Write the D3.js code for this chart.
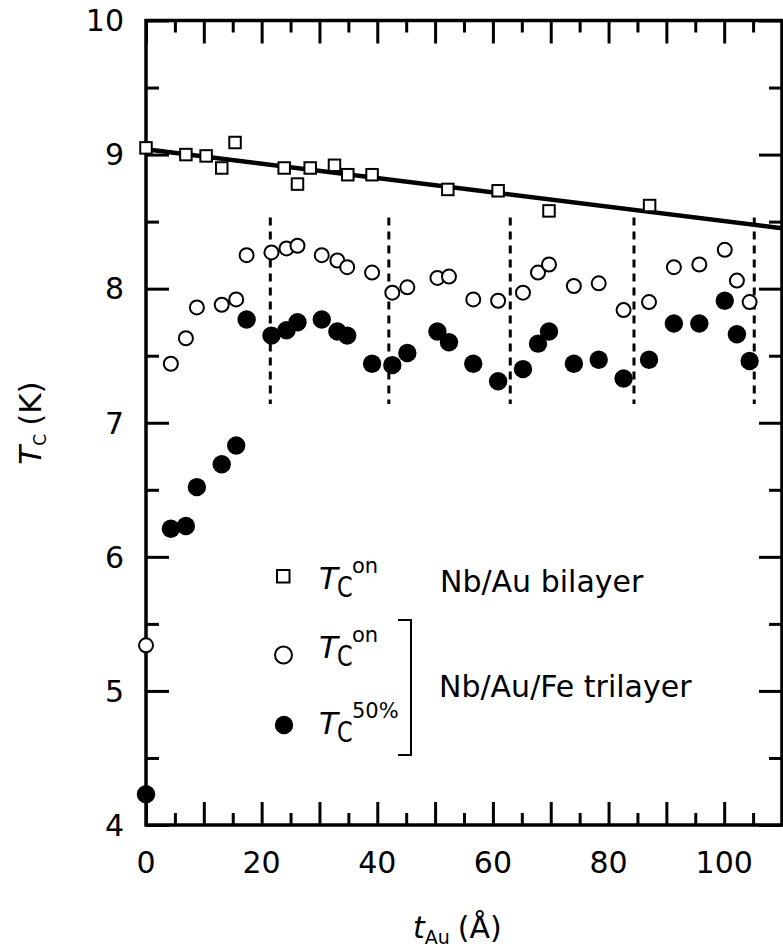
<!DOCTYPE html>
<html>
<head>
<meta charset="utf-8">
<script src="https://cdn.jsdelivr.net/npm/d3@7"></script>
<style>
  body { margin: 0; background: #fff; }
  svg { display: block; }
  text { font-family: 'DejaVu Sans', Verdana, sans-serif; fill: #000; }
</style>
</head>
<body>
<div id="chart"></div>
<script>
// Nb/Au bilayer, T_c onset
const biT = [0, 6.9, 10.4, 13.1, 15.4, 23.9, 26.2, 28.4, 32.6, 34.9, 39.1, 52.2, 60.9, 69.7, 87.1];
const biTc = [9.05, 9.00, 8.99, 8.90, 9.09, 8.90, 8.78, 8.90, 8.92, 8.85, 8.85, 8.74, 8.73, 8.58, 8.62];

// linear fit through the bilayer points
const fitT = [0, 110];
const fitTc = [9.04, 8.45];

// Nb/Au/Fe trilayer
const triT = [0, 4.3, 6.9, 8.8, 13.1, 15.6, 17.4, 21.7, 24.3, 26.2, 30.4, 33.1, 34.8, 39.1, 42.6, 45.2,
  50.4, 52.4, 56.6, 60.9, 65.2, 67.8, 69.7, 74.0, 78.3, 82.6, 87.0, 91.3, 95.7, 100.1, 102.2, 104.4];
const triOn = [5.34, 7.44, 7.63, 7.86, 7.88, 7.92, 8.25, 8.27, 8.30, 8.32, 8.25, 8.21, 8.16, 8.12, 7.97, 8.01,
  8.08, 8.09, 7.92, 7.91, 7.97, 8.12, 8.18, 8.02, 8.04, 7.84, 7.90, 8.16, 8.18, 8.29, 8.06, 7.90];
const tri50 = [4.23, 6.21, 6.23, 6.52, 6.69, 6.83, 7.77, 7.65, 7.69, 7.75, 7.77, 7.68, 7.65, 7.44, 7.43, 7.52,
  7.68, 7.60, 7.44, 7.31, 7.40, 7.59, 7.68, 7.44, 7.47, 7.33, 7.47, 7.74, 7.74, 7.91, 7.66, 7.46];

// dashed period markers
const periodT = [21.5, 42.0, 63.0, 84.4, 105.2];
const periodRange = [7.14, 8.53];

const xTicksMajor = [0, 10, 20, 30, 40, 50, 60, 70, 80, 90, 100, 110];
const xTicksMinor = [5, 15, 25, 35, 45, 55, 65, 75, 85, 95, 105];
const xLabels = [0, 20, 40, 60, 80, 100];
const yTicksMajor = [4, 5, 6, 7, 8, 9, 10];
const yTicksMinor = [4.5, 5.5, 6.5, 7.5, 8.5, 9.5];

const w = 783;
const h = 950;
const pLeft = 146, pRight = 782, pTop = 20.5, pBottom = 825;

const x = d3.scaleLinear().domain([0, 110]).range([pLeft, pRight]);
const y = d3.scaleLinear().domain([4, 10]).range([pBottom, pTop]);

const svg = d3.select('#chart').append('svg')
  .attr('width', w)
  .attr('height', h);

// ticks, all pointing inward
function drawAxis(axis, tr, vals, size) {
  const g = svg.append('g')
    .attr('transform', tr)
    .call(axis.tickValues(vals).tickSize(size).tickFormat(''));
  g.select('.domain').remove();
  g.selectAll('.tick line').attr('stroke', '#000').attr('stroke-width', 3);
  return g;
}
drawAxis(d3.axisBottom(x), `translate(0,${pBottom})`, xTicksMajor, -23);
drawAxis(d3.axisBottom(x), `translate(0,${pBottom})`, xTicksMinor, -12);
drawAxis(d3.axisTop(x), `translate(0,${pTop})`, xTicksMajor, -23);
drawAxis(d3.axisTop(x), `translate(0,${pTop})`, xTicksMinor, -12);
drawAxis(d3.axisLeft(y), `translate(${pLeft},0)`, yTicksMajor, -23);
drawAxis(d3.axisLeft(y), `translate(${pLeft},0)`, yTicksMinor, -13);
drawAxis(d3.axisRight(y), `translate(${pRight},0)`, yTicksMajor, -23);
drawAxis(d3.axisRight(y), `translate(${pRight},0)`, yTicksMinor, -13);

// frame
svg.append('rect')
  .attr('x', pLeft).attr('y', pTop)
  .attr('width', pRight - pLeft).attr('height', pBottom - pTop)
  .attr('fill', 'none').attr('stroke', '#000').attr('stroke-width', 3.5);

// tick labels
svg.append('g').selectAll('text').data(xLabels).join('text')
  .attr('x', (d) => x(d))
  .attr('y', 873)
  .attr('text-anchor', 'middle')
  .attr('font-size', 30)
  .text((d) => d);

svg.append('g').selectAll('text').data(yTicksMajor).join('text')
  .attr('x', 124)
  .attr('y', (d) => y(d))
  .attr('dy', '0.36em')
  .attr('text-anchor', 'end')
  .attr('font-size', 30)
  .text((d) => d);

// axis titles
const xt = svg.append('text').attr('x', 413).attr('y', 938).attr('font-size', 30);
xt.append('tspan').attr('font-style', 'italic').text('t');
xt.append('tspan').attr('font-size', 19).attr('dy', 6).text('Au');
xt.append('tspan').attr('dy', -6).attr('dx', 8).text('(Å)');

const yt = svg.append('text')
  .attr('transform', 'translate(41,423) rotate(-90)')
  .attr('text-anchor', 'middle')
  .attr('font-size', 31);
yt.append('tspan').attr('font-style', 'italic').text('T');
yt.append('tspan').attr('font-size', 17).attr('dy', 5).text('C');
yt.append('tspan').attr('dy', -5).attr('dx', 8).text('(K)');

// dashed period lines
svg.append('g').selectAll('line').data(periodT).join('line')
  .attr('x1', (d) => x(d)).attr('x2', (d) => x(d))
  .attr('y1', y(periodRange[1])).attr('y2', y(periodRange[0]))
  .attr('stroke', '#000').attr('stroke-width', 3)
  .attr('stroke-dasharray', '8,6');

// fit line
svg.append('line')
  .attr('x1', x(fitT[0])).attr('y1', y(fitTc[0]))
  .attr('x2', x(fitT[1])).attr('y2', y(fitTc[1]))
  .attr('stroke', '#000').attr('stroke-width', 4.5);

// bilayer squares
const sq = 11.5;
svg.append('g').selectAll('rect').data(biT).join('rect')
  .attr('x', (d) => x(d) - sq / 2)
  .attr('y', (d, i) => y(biTc[i]) - sq / 2)
  .attr('width', sq).attr('height', sq)
  .attr('fill', '#fff').attr('stroke', '#000').attr('stroke-width', 2);

// trilayer onset (open) and 50% (filled)
svg.append('g').selectAll('circle').data(triT).join('circle')
  .attr('cx', (d) => x(d))
  .attr('cy', (d, i) => y(triOn[i]))
  .attr('r', 7)
  .attr('fill', '#fff').attr('stroke', '#000').attr('stroke-width', 2);

svg.append('g').selectAll('circle').data(triT).join('circle')
  .attr('cx', (d) => x(d))
  .attr('cy', (d, i) => y(tri50[i]))
  .attr('r', 9.2)
  .attr('fill', '#000');

// legend
const leg = svg.append('g');
leg.append('rect').attr('x', 277).attr('y', 570).attr('width', 12.5).attr('height', 12.5)
  .attr('fill', '#fff').attr('stroke', '#000').attr('stroke-width', 2);
leg.append('circle').attr('cx', 283.5).attr('cy', 655).attr('r', 8.5)
  .attr('fill', '#fff').attr('stroke', '#000').attr('stroke-width', 2);
leg.append('circle').attr('cx', 284).attr('cy', 725).attr('r', 9.2).attr('fill', '#000');

const rows = [
  { base: 589, sup: 'on' },
  { base: 658, sup: 'on' },
  { base: 734, sup: '50%' }
];
rows.forEach((r) => {
  leg.append('text').attr('x', 319).attr('y', r.base).attr('font-size', 31)
    .attr('font-style', 'italic').text('T');
  leg.append('text').attr('transform', `translate(337,${r.base + 8}) scale(0.8,1)`)
    .attr('font-size', 28).text('C');
  leg.append('text').attr('x', 352).attr('y', r.base - 16).attr('font-size', 21).text(r.sup);
});

// bracket grouping the trilayer entries
leg.append('path')
  .attr('d', 'M398,620 H411 V755 H398')
  .attr('fill', 'none').attr('stroke', '#000').attr('stroke-width', 2);

leg.append('text').attr('x', 440).attr('y', 592).attr('font-size', 30).text('Nb/Au bilayer');
leg.append('text').attr('x', 439).attr('y', 697).attr('font-size', 30).text('Nb/Au/Fe trilayer');
</script>
</body>
</html>
